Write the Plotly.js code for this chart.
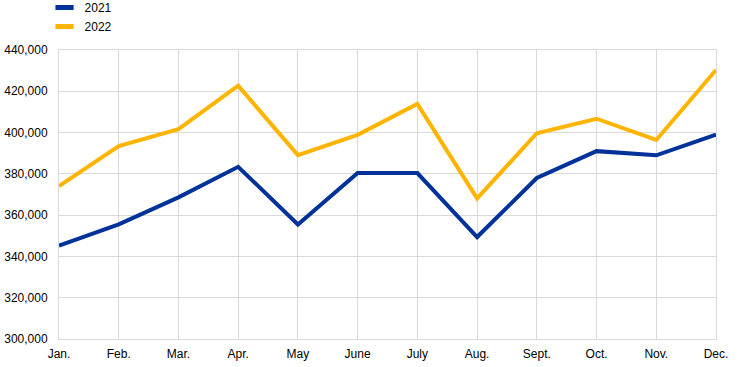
<!DOCTYPE html>
<html>
<head>
<meta charset="utf-8">
<script src="https://cdn.plot.ly/plotly-3.0.1.min.js"></script>
<style>html,body{margin:0;padding:0;background:#fff;}#chart{width:744px;height:367px;}</style>
</head>
<body>
<div id="chart"></div>
<script>
const months = ["Jan.", "Feb.", "Mar.", "Apr.", "May", "June", "July", "Aug.", "Sept.", "Oct.", "Nov.", "Dec."];
const series2021 = [345200, 355500, 368600, 383400, 355500, 380400, 380400, 349400, 378000, 391000, 389000, 399000];
const series2022 = [374100, 393500, 401700, 422700, 389100, 398900, 413900, 368100, 399700, 406700, 396400, 430300];
const seriesNames = ["2021", "2022"];
const colors = ["#003299", "#FFB400"];
const yTicks = [300000, 320000, 340000, 360000, 380000, 400000, 420000, 440000];

const font = "Liberation Sans, Arial, sans-serif";
const traces = [series2021, series2022].map((vals, i) => ({
  x: months, y: vals, type: "scatter", mode: "lines", name: seriesNames[i],
  line: {color: colors[i], width: 4}, showlegend: false, hoverinfo: "x+y"
}));
// legend-only entries with short bar swatches
seriesNames.forEach((n, i) => traces.push({
  x: [null], y: [null], type: "scatter", mode: "markers", name: n,
  marker: {symbol: "line-ew-open", size: 13, color: colors[i], line: {color: colors[i], width: 5}},
  showlegend: true
}));

const layout = {
  width: 744, height: 367,
  margin: {l: 59, r: 28, t: 50, b: 28, autoexpand: false},
  paper_bgcolor: "#fff", plot_bgcolor: "#fff",
  font: {family: font, size: 12, color: "#000"},
  showlegend: true,
  legend: {x: -0.022, xanchor: "left", y: 1.197, yanchor: "top", orientation: "v",
           font: {family: font, size: 12, color: "#000"}, bgcolor: "rgba(0,0,0,0)",
           tracegroupgap: 0, itemsizing: "trace"},
  xaxis: {type: "category", range: [0, 11], showgrid: true, gridcolor: "#d9d9d9", gridwidth: 1,
          showline: true, linecolor: "#d9d9d9", linewidth: 1, mirror: true, automargin: false,
          zeroline: false, ticks: "", ticklabelstandoff: 4, fixedrange: true},
  yaxis: {range: [300000, 440000], tickvals: yTicks, tickformat: ",d", showgrid: true, automargin: false,
          gridcolor: "#d9d9d9", gridwidth: 1, showline: true, linecolor: "#d9d9d9", linewidth: 1,
          mirror: true, zeroline: false, ticks: "", ticklabelstandoff: 8, fixedrange: true}
};
Plotly.newPlot("chart", traces, layout, {displayModeBar: false, staticPlot: true});
</script>
</body>
</html>
